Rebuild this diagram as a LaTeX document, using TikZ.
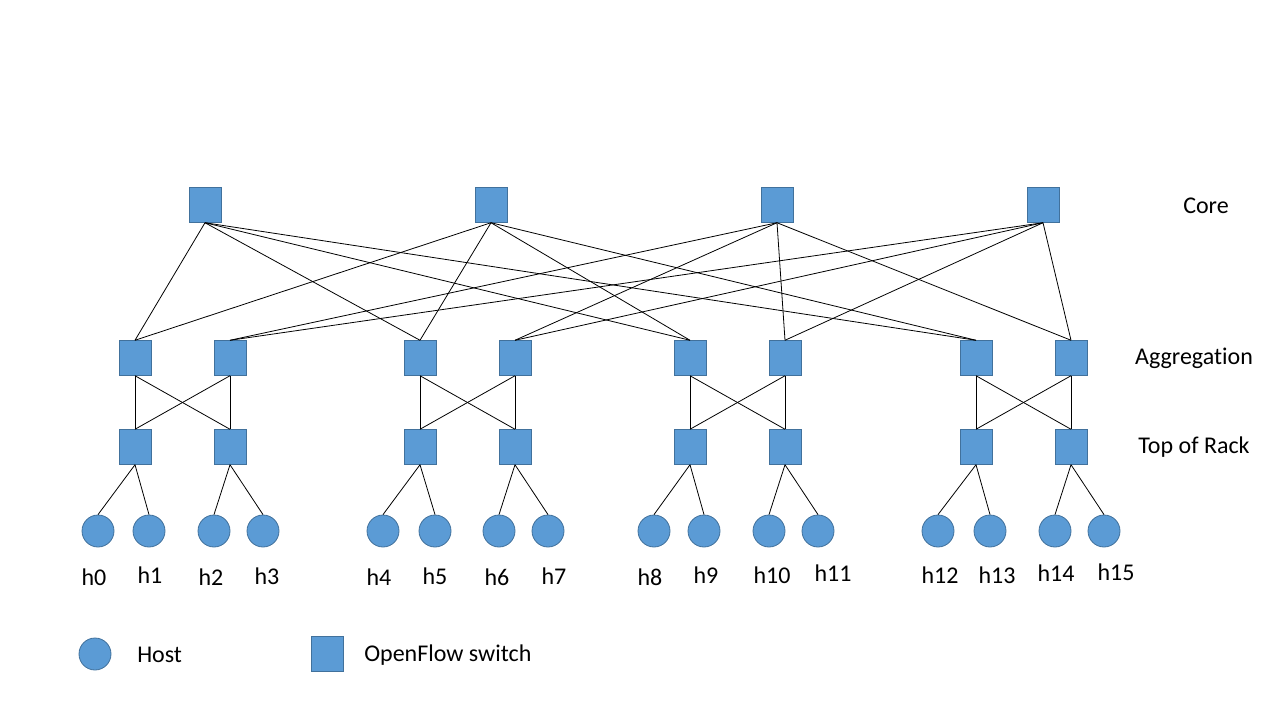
\documentclass[tikz,border=0pt]{standalone}
\usepackage{fontspec}
\setmainfont{Carlito}[Ligatures=NoCommon]
\definecolor{nodefill}{HTML}{5B9BD5}
\definecolor{nodeline}{HTML}{41719C}
\tikzset{
  switchbox/.style={draw=nodeline, fill=nodefill, line width=0.6pt, rectangle, minimum width=24pt, minimum height=26pt, inner sep=0pt},
  hostdot/.style={draw=nodeline, fill=nodefill, line width=0.6pt, circle, minimum size=24pt, inner sep=0pt},
  wire/.style={black, line width=0.6pt},
  lbl/.style={font=\fontsize{18}{22}\selectfont, inner sep=0pt}
}
\begin{document}
\begin{tikzpicture}[x=0.75pt, y=-0.75pt]
  \useasboundingbox (0,0) rectangle (1280,720);
  \def\yc{205} \def\ya{358} \def\yt{447} \def\yh{531}
  % switches
  \foreach \x [count=\i] in {205,491,777,1043} { \node[switchbox] (c\i) at (\x,\yc) {}; }
  \foreach \x [count=\i] in {135,230,420,515,690,785,976,1071} {
    \node[switchbox] (a\i) at (\x,\ya) {};
    \node[switchbox] (t\i) at (\x,\yt) {};
  }
  % hosts
  \foreach \x [count=\i from 0] in {98,149,214,263,383,435,499,548,654,704,769,818,938,990,1055,1104} {
    \node[hostdot] (h\i) at (\x,\yh) {};
  }
  \foreach \x/\y [count=\i from 0] in {94/577,150/575,211/577,267/576,379/577,435/576,497/577,554/576,
      650/577,706/575,772/575,833/573,940/575,997/575,1056/573,1116/572} {
    \node[lbl] (n\i) at (\x,\y) {h\i};
  }
  % core to aggregation
  \foreach \c in {1,2} { \foreach \a in {1,3,5,7} { \draw[wire] (c\c.south) -- (a\a.north); } }
  \foreach \c in {3,4} { \foreach \a in {2,4,6,8} { \draw[wire] (c\c.south) -- (a\a.north); } }
  % pods
  \foreach \p in {1,3,5,7} {
    \pgfmathtruncatemacro{\q}{\p+1}
    \draw[wire] (a\p.south) -- (t\p.north);
    \draw[wire] (a\p.south) -- (t\q.north);
    \draw[wire] (a\q.south) -- (t\p.north);
    \draw[wire] (a\q.south) -- (t\q.north);
  }
  \foreach \t in {1,...,8} {
    \pgfmathtruncatemacro{\hl}{2*\t-2}
    \pgfmathtruncatemacro{\hr}{2*\t-1}
    \draw[wire] (t\t.south) -- (h\hl.north);
    \draw[wire] (t\t.south) -- (h\hr.north);
  }
  % layer names
  \node[lbl] (core) at (1206,206) {Core};
  \node[lbl] (aggr) at (1194,358) {Aggregation};
  \node[lbl] (tor) at (1194,447) {Top of Rack};
  % legend
  \node[hostdot] (lghost) at (95,654) {};
  \node[lbl, anchor=west] (lghosttxt) at (137,655) {Host};
  \node[switchbox] (lgsw) at (327,654) {};
  \node[lbl, anchor=west] (lgswtxt) at (364,655) {OpenFlow switch};
\end{tikzpicture}
\end{document}
